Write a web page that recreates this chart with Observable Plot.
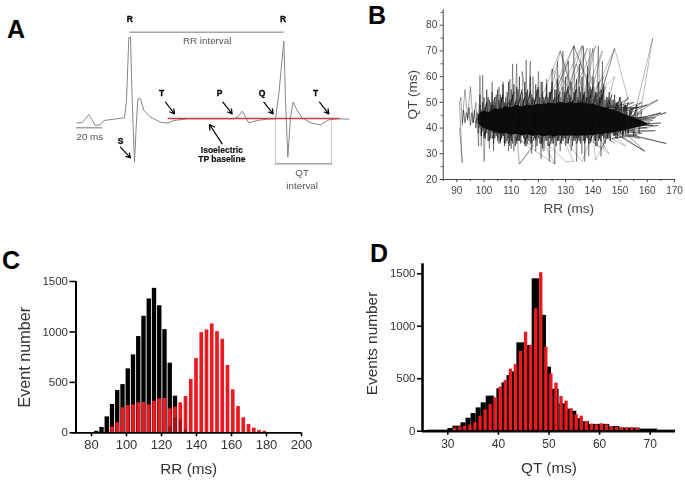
<!DOCTYPE html>
<html><head><meta charset="utf-8">
<script src="https://cdn.jsdelivr.net/npm/d3@7"></script>
<script src="https://cdn.jsdelivr.net/npm/@observablehq/plot@0.6"></script>
<style>
html,body{margin:0;padding:0;background:#fff;}
#page{position:relative;width:685px;height:480px;overflow:hidden;font-family:"Liberation Sans",Arial,sans-serif;}
.panel{position:absolute;}
.panel svg{display:block;filter:blur(0.45px);background:transparent;}
.letter{position:absolute;font:bold 25px "Liberation Sans",Arial,sans-serif;color:#000;line-height:25px;}
</style></head><body><div id="page"></div>
<script>
// ---------- Panel A: ECG trace ----------
const ecgSample=[230,245,255,265,275,285,300,310,340,372,378,385,390,395,402,407,412,420,430,450,480,500,520,560,640,700,712,725,735,745,770,800,825,835,850,855,862,870,878,890,905,930,960,985,1010,1045];
const ecgAmp=[-14,-12,-1,12,-4,-22,-18,-6,-2,2,54,244,244,54,-131,-26,59,59,24,4,-11,-14,-6,-1,-1,-1,4,22,4,-13,-6,-2,-1,74,232,54,-116,4,49,24,2,-13,-19,-4,-1,-2];
const baselineSample=[503,1015];
const baselineAmp=[0,0];
const lightLines=[{s:[825,825],a:[-1,-136]},{s:[993,993],a:[-1,-136]}];
const darkLines=[{s:[388,848],a:[259,259]},{s:[228,303],a:[-28,-28]},{s:[825,993],a:[-136,-136]}];
const boldLabels=[["R",388,299],["R",848,299],["T",483,77],["P",657,77],["Q",785,77],["T",945,77],["S",360,-68]];
const smallBold=[["Isoelectric",664,-95],["TP baseline",664,-123]];
const plainLabels=[["RR interval",620,232],["20 ms",268,-54],["QT",905,-163],["interval",905,-201]];
const arrowsA=[[495,49,522,14],[667,49,695,14],[790,49,818,14],[957,49,985,14],[360,-86,390,-118],[665,-76,627,-18]];

// ---------- Panel B: QT vs RR ----------
const coreRR=[98,100,102,104,106,108,110,112,114,116,118,120,122,124,126,128,130,132,134,136,138,140,142,144,146,148,150,152,154,156,158,160];
const coreLow=[41.5,39.8,39.2,38.4,37.6,38,37.2,37.6,37,37.4,36.8,37.2,36.6,37,36.6,37,36.8,37,36.8,37,37,37.2,37.4,37.6,38,38.2,38.6,39.2,39.6,40,40.6,41];
const coreHigh=[45,46.6,46,47.6,47,48.4,47.8,48.8,48.2,49,48.6,49.4,49,49.8,49.4,50,49.6,50,49.6,50,49.4,49.4,48.6,48,47.4,46.8,46,45.2,44.4,43.6,42.8,41.8];
const tipRR=[91,92,91,91.5,92,93,94,95,96,97,98,98.5,99,99.5,100,101,102,103,103.5,104,105,105.5,106,107,107.5,108,109,109.5,110,110.5,111,112,112.5,113,118,114,115,115.5,116,117,117.5,118,119,120,121,121.5,122,123,124,125,126,127,128,129,130,131,132,133,134,135,136,136.5,137,138,138.5,139,140,141,142,143,143.5,144];
const tipQT=[40,26.5,50,52,42,55,44,56,42,50,33,60.5,33,60.5,27,50,32,58,31,52,35,56,34,58,34,50,31,59,32,65,31,65,31.5,26,33,62,33,66.5,34,66,30,60,31,62,28,58,31,59,27,63,26,66,31,70,33,66,31,72,27,65,30,72,27,64,29,65,71,33,72,29,66,32,70,30];
const furRR=[92,92.5,93,93.5,94,94.5,95,95.5,96,96.5,97,97.5,98,98.5,99,100,100.5,101,101.5,102,102.5,103,103.5,104,104.5,105,105.5,106,106.5,107,107.5,108,108.5,109,109.5,110,110.5,111,111.5,112,112.5,113,113.5,114,114.5,115,115.5,116,116.5,117,117.5,118,118.5,119,119.5,120,120.5,121,121.5,122,122.5,123,123.5,124,124.5,125,125.5,126,126.5,127,127.5,128,128.5,129,129.5,130,130.5,131,131.5,132,132.5,133,133.5,134,134.5,135,135.5,136,136.5,137,137.5,138,138.5,139,139.5,140,140.5,141,141.5,142,142.5,143,143.5,144,144.5,145,145.5,146,146.5,147,147.5,148,148.5,149,149.5,150,151,152,153,154,155,156,157,158];
const furQT=[41,47,42,46,43,48,41,46,42,47,40,46,43,53,37,52,36,55,35,51,36,54,34,50,37,55,34,53,36,57,33,52,35,58,33,55,34,57,33,56,35,60,34,54,36,58,33,55,35,60,34,52,36,57,33,55,34,58,32,52,35,57,33,54,36,58,34,55,33,59,35,52,34,56,36,60,34,55,37,58,33,54,35,59,36,56,34,60,35,53,37,61,34,56,36,60,35,54,33,58,36,55,37,57,34,52,36,54,35,51,37,53,36,50,38,52,37,49,38,48,37,49,38,47,39];
const fur2RR=[97.5,98,98.5,99,99.5,100,100.5,101,101.5,102,102.5,103,103.5,104,104.5,105,105.5,106,106.5,107,107.5,108,108.5,109,109.5,110,110.5,111,111.5,112,112.5,113,113.5,114,114.5,115,115.5,116,116.5,117,117.5,118,118.5,119,119.5,120,120.5,121,121.5,122,122.5,123,123.5,124,124.5,125,125.5,126,126.5,127,127.5,128,128.5,129,129.5,130,130.5,131,131.5,132,132.5,133,133.5,134,134.5,135,135.5,136,136.5,137,137.5,138,138.5,139,139.5,140,140.5,141,141.5,142,142.5,143,143.5,144,144.5,145,145.5,146,146.5,147,147.5,148,148.5,149,149.5,150,150.5,151,151.5,152,152.5,153,153.5,154];
const fur2QT=[44,38,49,37,50,36,48,38,52,35,50,38,49,36,53,36,51,35,52,37,50,34,54,36,51,35,53,38,50,34,55,35,52,37,51,35,54,36,50,34,53,37,51,35,55,36,52,34,54,37,50,35,52,36,54,34,51,36,55,35,53,37,50,35,54,36,52,34,53,37,51,35,55,36,52,35,54,37,53,34,52,36,55,35,53,37,51,35,54,36,52,35,53,36,51,37,52,36,50,38,51,37,50,36,49,38,50,37,49,38,48,38,47,39,48,38,47,39,46,40];
const fur3RR=[97,99,98,101,99,103,100,104,102,106,103,107,104,109,106,111,107,112,109,114,110,115,112,117,113,118,115,120,116,122,118,123,119,125,121,126,122,128,124,129,125,131,127,132,128,134,130,135,131,137,133,138,134,140,136,141,137,143,139,144,140,146,142,147,143,149,145,150,146,152,148,153,150,155,151,156,152,157];
const fur3QT=[42,47,40,50,38,49,37,52,39,48,36,53,38,50,35,54,37,51,34,55,37,52,35,54,36,51,34,56,38,50,35,53,36,55,34,52,37,54,33,50,36,56,35,52,34,55,37,51,35,54,36,52,34,56,37,53,35,52,34,55,38,51,35,53,37,50,36,52,38,49,37,50,38,48,38,47,39,46];
const meshRR=[122,128,124,133,127,131,126,136,130,138,133,141,136,143.5,138,139,137,134,129,125,132,128,134,136,142,133,140,148,142,148,153,145,148,139,145,141,144,136];
const meshQT=[54,70,52,72,56,66,50,72,52,71,55,72,50,70,48,71,50,65,50,63,55,70,50,72,48,72,52,71,50,71,51,48,60,50,56,48,60,48];
const meshLowRR=[113,118,112,126,121,130,133,128,136,140,141,146,143,136,146,140,148,143,152,145,159,149];
const meshLowQT=[26,33,36,26,36,27,27,38,27,38,27.5,38,32,38,30,40,34,38,33,40,31,38];
const fanRR=[150,165,150,167,152,164,150,163,153,165,150,164,152,163,150,167,152,159,148,157,150,160,148,158,150,162,151,160,149,161,150,158,147,156,146,157,145,155,147,153,148,160,150,162,152,158];
const fanQT=[42,46,40,46,43,51,44,44,41,42,41,41,39,39,38,34,38,31,38,36,46,49,46,50,44,43,40,40,42,42,39,38,36,37,47,48,48,50,46,52,44,44,42,41,43,46];
const spikeRR=[155,162,157];
const spikeQT=[44,75,43];

// ---------- Panel C: RR histogram ----------
const rrBlackBin=[83,86,89,92,95,98,101,104,107,110,113,116,119,122,125,128];
const rrBlackCount=[15,53,158,280,419,478,634,772,954,1155,1327,1432,1260,1023,690,363];
const rrRedBin=[92,95,98,101,104,107,110,113,116,119,122,125,128,131,134,137,140,143,146,149,152,155,158,161,164,167,170,173,176,179];
const rrRedCount=[56,100,248,270,277,297,300,277,313,337,340,238,254,297,360,528,736,993,1020,1079,1003,927,667,426,261,149,83,46,23,16];
const rrShadeBin=[125,128,131,134];
const rrShadeCount=[60,150,130,30];

// ---------- Panel D: QT histogram ----------
const qtBlackFrom=[26,30,31,32.6,33.6,34.6,35.6,36.6,37.6,39.7,40.7,41.7,42.7,43.65,45.15,46.68,48.12,49.5,50.5,52,53.5,54.5,55.5,56.5,58,60,62,64,68,71.5];
const qtBlackTo=[30,31,32.6,33.6,34.6,35.6,36.6,37.6,39.2,40.7,41.7,42.7,43.65,45.15,46.68,48.12,49.5,50.5,52,53.5,54.5,55.5,56.5,58,60,62,64,68,71.5,75];
const qtBlackCount=[10,25,48,80,124,168,222,270,334,404,460,530,565,842,817,1452,1103,610,400,260,210,190,120,90,65,65,45,30,20,10];
const qtRedBin=[31,32,33,34,35,36,37,38,39,40,41,42,43,44,45,46,47,48,49,50,51,52,53,54,55,56,57,58,59,60,61,62,63,64,65,66,67];
const qtRedCount=[29,38,45,60,80,143,203,254,318,420,483,591,636,760,944,817,1166,1510,800,547,458,330,286,213,156,143,92,67,60,70,60,45,38,32,32,32,28];

// ---------- Tick labels ----------
const bMajorX=[90,100,110,120,130,140,150,160,170];
const bMinorX=[85,95,105,115,125,135,145,155,165];
const bMajorY=[20,30,40,50,60,70,80];
const bMinorY=[25,35,45,55,65,75,85];
const cTicksX=[80,100,120,140,160,180,200];
const cTicksY=[0,500,1000,1500];
const dTicksX=[30,40,50,60,70];
const dTicksY=[0,500,1000,1500];

const page=document.getElementById("page");
const FONT='"Liberation Sans",Arial,sans-serif';
function place(chart,l,t){const d=document.createElement("div");d.className="panel";d.style.left=l+"px";d.style.top=t+"px";d.appendChild(chart);page.appendChild(d);}
function letter(s,l,t){const d=document.createElement("div");d.className="letter";d.textContent=s;d.style.left=l+"px";d.style.top=t+"px";page.appendChild(d);}
const zip=(a,b,k1,k2)=>a.map((v,i)=>({[k1]:v,[k2]:b[i]}));
const plain=d3.format("d");

// Panel A
place(Plot.plot({
  width:360,height:200,margin:0,style:{fontFamily:FONT,background:"transparent"},
  x:{domain:[0,1080],range:[0,360],axis:null},
  y:{domain:[354,-246],range:[0,200],axis:null},
  marks:[
    ...lightLines.map(l=>Plot.line(zip(l.s,l.a,"s","a"),{x:"s",y:"a",stroke:"#bbb",strokeWidth:0.8})),
    ...darkLines.map(l=>Plot.line(zip(l.s,l.a,"s","a"),{x:"s",y:"a",stroke:"#777",strokeWidth:1})),
    Plot.line(zip(ecgSample,ecgAmp,"s","a"),{x:"s",y:"a",stroke:"#858585",strokeWidth:1}),
    Plot.line(zip(baselineSample,baselineAmp,"s","a"),{x:"s",y:"a",stroke:"#d23a45",strokeWidth:1.6}),
    Plot.arrow(arrowsA,{x1:d=>d[0],y1:d=>d[1],x2:d=>d[2],y2:d=>d[3],stroke:"#000",strokeWidth:1.2,headLength:7,bend:0}),
    Plot.text(boldLabels,{x:d=>d[1],y:d=>d[2],text:d=>d[0],fontWeight:"bold",fontSize:8.5,fill:"#000",stroke:"#000",strokeWidth:0.3}),
    Plot.text(smallBold,{x:d=>d[1],y:d=>d[2],text:d=>d[0],fontWeight:"bold",fontSize:8.5,fill:"#111",stroke:"#111",strokeWidth:0.2}),
    Plot.text(plainLabels,{x:d=>d[1],y:d=>d[2],text:d=>d[0],fontSize:9.8,fill:"#555"})
  ]
}),0,0);

// Panel B
const lineStyle={x:"r",y:"q",stroke:"#111",strokeWidth:0.75};
place(Plot.plot({
  width:325,height:225,marginLeft:82.7,marginRight:11,marginTop:9.3,marginBottom:46,style:{fontFamily:FONT,background:"transparent"},
  x:{domain:[85,170]},y:{domain:[20,86]},
  marks:[
    Plot.areaY(coreRR.map((r,i)=>({r,lo:coreLow[i],hi:coreHigh[i]})),{x:"r",y1:"lo",y2:"hi",fill:"#030303"}),
    Plot.line(zip(furRR,furQT,"r","q"),{...lineStyle,strokeOpacity:0.7}),
    Plot.line(zip(fur2RR,fur2QT,"r","q"),{...lineStyle,strokeOpacity:0.7}),
    Plot.line(zip(fur3RR,fur3QT,"r","q"),{...lineStyle,strokeOpacity:0.7}),
    Plot.line(zip(tipRR,tipQT,"r","q"),{...lineStyle,strokeOpacity:0.5}),
    Plot.line(zip(meshRR,meshQT,"r","q"),{...lineStyle,strokeOpacity:0.38}),
    Plot.line(zip(meshLowRR,meshLowQT,"r","q"),{...lineStyle,strokeOpacity:0.35}),
    Plot.line(zip(fanRR,fanQT,"r","q"),{...lineStyle,strokeOpacity:0.6}),
    Plot.line(zip(spikeRR,spikeQT,"r","q"),{...lineStyle,strokeOpacity:0.4}),
    Plot.ruleY([20],{stroke:"#444",strokeWidth:1}),
    Plot.ruleX([85],{stroke:"#444",strokeWidth:1}),
    Plot.axisX({ticks:bMinorX,tickSize:2,tickFormat:()=>"",label:null,stroke:"#444"}),
    Plot.axisY({ticks:bMinorY,tickSize:2,tickFormat:()=>"",label:null,stroke:"#444"}),
    Plot.axisX({ticks:bMajorX,tickSize:3,tickPadding:4,fontSize:10,label:null,fill:"#444",stroke:"#444"}),
    Plot.axisY({ticks:bMajorY,tickSize:3,tickPadding:3,fontSize:10,label:null,fill:"#444",stroke:"#444"}),
    Plot.text(["RR (ms)"],{frameAnchor:"bottom",dx:10,dy:33,fontSize:13.6,fill:"#444"}),
    Plot.text(["QT (ms)"],{frameAnchor:"left",textAnchor:"middle",rotate:-90,dx:-30.5,fontSize:13.6,fill:"#444"})
  ]
}),360,0);

// Panel C
place(Plot.plot({
  width:320,height:230,marginLeft:75.5,marginRight:19,marginTop:31,marginBottom:47.7,style:{fontFamily:FONT,background:"transparent"},
  x:{domain:[71.14,200]},y:{domain:[0,1500]},
  marks:[
    Plot.rectY(zip(rrBlackBin,rrBlackCount,"b","n"),{x1:d=>d.b-1.25,x2:d=>d.b+1.25,y:"n",fill:"#000"}),
    Plot.rectY(zip(rrRedBin,rrRedCount,"b","n"),{x1:d=>d.b-1.05,x2:d=>d.b+1.05,y:"n",fill:"#ea1a20"}),
    Plot.rectY(zip(rrShadeBin,rrShadeCount,"b","n"),{x1:d=>d.b-1.05,x2:d=>d.b+1.05,y:"n",fill:"#000",fillOpacity:0.28}),
    Plot.ruleY([0],{x1:69.5,x2:200,stroke:"#000",strokeWidth:1.8}),
    Plot.ruleX([71.14],{stroke:"#000",strokeWidth:2}),
    Plot.axisX({ticks:cTicksX,tickSize:4,tickPadding:3,fontSize:13,label:null,fill:"#333",stroke:"#000",strokeWidth:1.6}),
    Plot.axisY({ticks:cTicksY,tickFormat:plain,tickSize:6,tickPadding:2,fontSize:11.5,label:null,fill:"#333",stroke:"#000",strokeWidth:1.6}),
    Plot.text(["RR (ms)"],{frameAnchor:"bottom",dy:41,fontSize:15.3,fill:"#333"}),
    Plot.text(["Event number"],{frameAnchor:"left",textAnchor:"middle",rotate:-90,dx:-51.5,fontSize:16.2,fill:"#333"})
  ]
}),0,250);

// Panel D
place(Plot.plot({
  width:325,height:240,marginLeft:62,marginRight:10,marginTop:23.3,marginBottom:49.3,style:{fontFamily:FONT,background:"transparent"},
  x:{domain:[25,75]},y:{domain:[0,1595]},
  marks:[
    Plot.rectY(qtBlackFrom.map((f,i)=>({f,t:qtBlackTo[i],n:qtBlackCount[i]})),{x1:"f",x2:"t",y:"n",fill:"#000"}),
    Plot.rectY(zip(qtRedBin,qtRedCount,"b","n"),{x1:d=>d.b+0.14,x2:d=>d.b+0.8,y:"n",fill:"#ea1a20"}),
    Plot.ruleY([0],{stroke:"#000",strokeWidth:2.4}),
    Plot.ruleX([25],{stroke:"#000",strokeWidth:2.6}),
    Plot.axisX({ticks:dTicksX,tickSize:4,tickPadding:4,fontSize:12,label:null,fill:"#333",stroke:"#000",strokeWidth:1.6}),
    Plot.axisY({ticks:dTicksY,tickFormat:plain,tickSize:5,tickPadding:2,fontSize:11.5,label:null,fill:"#333",stroke:"#000",strokeWidth:1.6}),
    Plot.text(["QT (ms)"],{frameAnchor:"bottom",dy:42,fontSize:15.3,fill:"#333"}),
    Plot.text(["Events number"],{frameAnchor:"left",textAnchor:"middle",rotate:-90,dx:-50,dy:-4,fontSize:15.4,fill:"#333"})
  ]
}),360,240);

letter("A",7,17);letter("B",368,3);letter("C",2,248);letter("D",370,241);
</script></body></html>
